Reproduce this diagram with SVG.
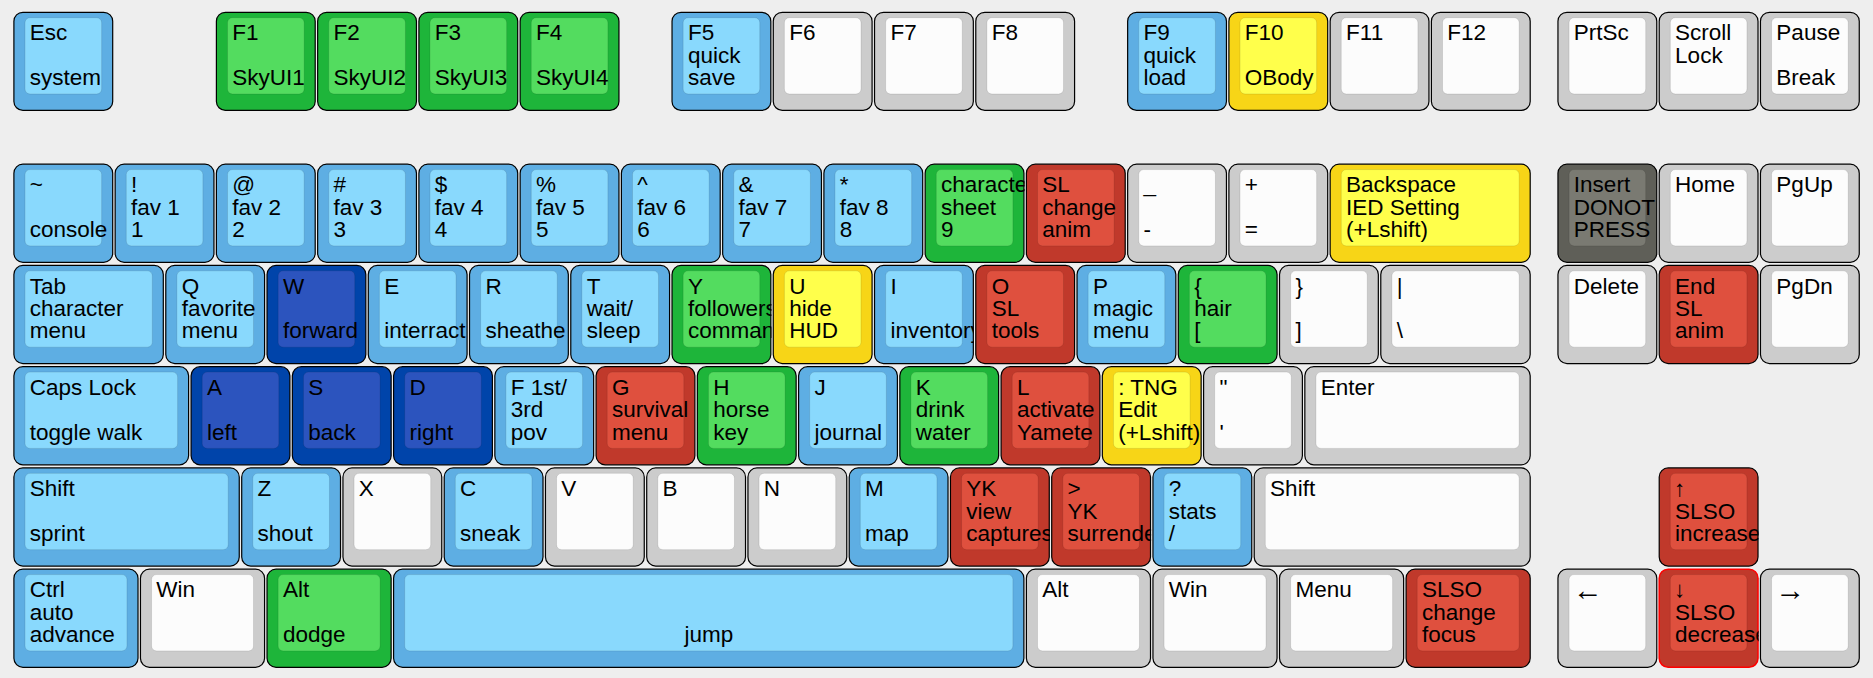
<svg xmlns="http://www.w3.org/2000/svg" width="1873" height="678" viewBox="0 0 1873 678">
<style>
.o{stroke:#000;stroke-width:1.2}
.i{stroke:rgba(0,0,0,0.1);stroke-width:1}
.b .o{fill:#5eaee3}.b .i{fill:#89d9fd}
.g .o{fill:#1eb53a}.g .i{fill:#53dc5f}
.d .o{fill:#0044aa}.d .i{fill:#2c54be}
.r .o{fill:#c0392b}.r .i{fill:#df503e}
.y .o{fill:#f7d517}.y .i{fill:#ffff4b}
.w .o{fill:#cccccc}.w .i{fill:#fcfcfc}
.k .o{fill:#5f5f58}.k .i{fill:#7a7a72}
.sel .o{stroke:#ff0000;stroke-width:1.5}
text{font-family:"Liberation Sans",Arial,sans-serif;font-size:22.5px;fill:#000}
.ah{font-size:30px}
</style>
<defs>
<clipPath id="c1"><rect x="0" y="0" width="100" height="100"/></clipPath>
</defs>
<rect width="1873" height="678" fill="#eeeeee"/>
<g id="keys">
<!-- Row 0 -->
<g id="k-esc" class="b" transform="translate(13.3,11.7)"><rect class="o" x="0.6" y="0.6" width="98.8" height="98.1" rx="9"/><rect class="i" x="11.7" y="6" width="76.65" height="76.3" rx="5"/><text clip-path="url(#c1)"><tspan x="16.5" y="28.8">Esc</tspan><tspan x="16.5" y="73.6">system</tspan></text></g>
<g id="k-f1" class="g" transform="translate(215.8,11.7)"><rect class="o" x="0.6" y="0.6" width="98.8" height="98.1" rx="9"/><rect class="i" x="11.7" y="6" width="76.65" height="76.3" rx="5"/><text clip-path="url(#c1)"><tspan x="16.5" y="28.8">F1</tspan><tspan x="16.5" y="73.6">SkyUI1</tspan></text></g>
<g id="k-f2" class="g" transform="translate(317.05,11.7)"><rect class="o" x="0.6" y="0.6" width="98.8" height="98.1" rx="9"/><rect class="i" x="11.7" y="6" width="76.65" height="76.3" rx="5"/><text clip-path="url(#c1)"><tspan x="16.5" y="28.8">F2</tspan><tspan x="16.5" y="73.6">SkyUI2</tspan></text></g>
<g id="k-f3" class="g" transform="translate(418.3,11.7)"><rect class="o" x="0.6" y="0.6" width="98.8" height="98.1" rx="9"/><rect class="i" x="11.7" y="6" width="76.65" height="76.3" rx="5"/><text clip-path="url(#c1)"><tspan x="16.5" y="28.8">F3</tspan><tspan x="16.5" y="73.6">SkyUI3</tspan></text></g>
<g id="k-f4" class="g" transform="translate(519.55,11.7)"><rect class="o" x="0.6" y="0.6" width="98.8" height="98.1" rx="9"/><rect class="i" x="11.7" y="6" width="76.65" height="76.3" rx="5"/><text clip-path="url(#c1)"><tspan x="16.5" y="28.8">F4</tspan><tspan x="16.5" y="73.6">SkyUI4</tspan></text></g>
<g id="k-f5" class="b" transform="translate(671.43,11.7)"><rect class="o" x="0.6" y="0.6" width="98.8" height="98.1" rx="9"/><rect class="i" x="11.7" y="6" width="76.65" height="76.3" rx="5"/><text clip-path="url(#c1)"><tspan x="16.5" y="28.8">F5</tspan><tspan x="16.5" y="51.3">quick</tspan><tspan x="16.5" y="73.6">save</tspan></text></g>
<g id="k-f6" class="w" transform="translate(772.68,11.7)"><rect class="o" x="0.6" y="0.6" width="98.8" height="98.1" rx="9"/><rect class="i" x="11.7" y="6" width="76.65" height="76.3" rx="5"/><text><tspan x="16.5" y="28.8">F6</tspan></text></g>
<g id="k-f7" class="w" transform="translate(873.93,11.7)"><rect class="o" x="0.6" y="0.6" width="98.8" height="98.1" rx="9"/><rect class="i" x="11.7" y="6" width="76.65" height="76.3" rx="5"/><text><tspan x="16.5" y="28.8">F7</tspan></text></g>
<g id="k-f8" class="w" transform="translate(975.18,11.7)"><rect class="o" x="0.6" y="0.6" width="98.8" height="98.1" rx="9"/><rect class="i" x="11.7" y="6" width="76.65" height="76.3" rx="5"/><text><tspan x="16.5" y="28.8">F8</tspan></text></g>
<g id="k-f9" class="b" transform="translate(1127.05,11.7)"><rect class="o" x="0.6" y="0.6" width="98.8" height="98.1" rx="9"/><rect class="i" x="11.7" y="6" width="76.65" height="76.3" rx="5"/><text clip-path="url(#c1)"><tspan x="16.5" y="28.8">F9</tspan><tspan x="16.5" y="51.3">quick</tspan><tspan x="16.5" y="73.6">load</tspan></text></g>
<g id="k-f10" class="y" transform="translate(1228.3,11.7)"><rect class="o" x="0.6" y="0.6" width="98.8" height="98.1" rx="9"/><rect class="i" x="11.7" y="6" width="76.65" height="76.3" rx="5"/><text clip-path="url(#c1)"><tspan x="16.5" y="28.8">F10</tspan><tspan x="16.5" y="73.6">OBody</tspan></text></g>
<g id="k-f11" class="w" transform="translate(1329.55,11.7)"><rect class="o" x="0.6" y="0.6" width="98.8" height="98.1" rx="9"/><rect class="i" x="11.7" y="6" width="76.65" height="76.3" rx="5"/><text><tspan x="16.5" y="28.8">F11</tspan></text></g>
<g id="k-f12" class="w" transform="translate(1430.8,11.7)"><rect class="o" x="0.6" y="0.6" width="98.8" height="98.1" rx="9"/><rect class="i" x="11.7" y="6" width="76.65" height="76.3" rx="5"/><text><tspan x="16.5" y="28.8">F12</tspan></text></g>
<g id="k-prtsc" class="w" transform="translate(1557.36,11.7)"><rect class="o" x="0.6" y="0.6" width="98.8" height="98.1" rx="9"/><rect class="i" x="11.7" y="6" width="76.65" height="76.3" rx="5"/><text><tspan x="16.5" y="28.8">PrtSc</tspan></text></g>
<g id="k-scroll" class="w" transform="translate(1658.61,11.7)"><rect class="o" x="0.6" y="0.6" width="98.8" height="98.1" rx="9"/><rect class="i" x="11.7" y="6" width="76.65" height="76.3" rx="5"/><text><tspan x="16.5" y="28.8">Scroll</tspan><tspan x="16.5" y="51.3">Lock</tspan></text></g>
<g id="k-pause" class="w" transform="translate(1759.86,11.7)"><rect class="o" x="0.6" y="0.6" width="98.8" height="98.1" rx="9"/><rect class="i" x="11.7" y="6" width="76.65" height="76.3" rx="5"/><text><tspan x="16.5" y="28.8">Pause</tspan><tspan x="16.5" y="73.6">Break</tspan></text></g>
<!-- Row 1 -->
<g id="k-tilde" class="b" transform="translate(13.3,163.58)"><rect class="o" x="0.6" y="0.6" width="98.8" height="98.1" rx="9"/><rect class="i" x="11.7" y="6" width="76.65" height="76.3" rx="5"/><text clip-path="url(#c1)"><tspan x="16.5" y="28.8">~</tspan><tspan x="16.5" y="73.6">console</tspan></text></g>
<g id="k-1" class="b" transform="translate(114.55,163.58)"><rect class="o" x="0.6" y="0.6" width="98.8" height="98.1" rx="9"/><rect class="i" x="11.7" y="6" width="76.65" height="76.3" rx="5"/><text><tspan x="16.5" y="28.8">!</tspan><tspan x="16.5" y="51.3">fav 1</tspan><tspan x="16.5" y="73.6">1</tspan></text></g>
<g id="k-2" class="b" transform="translate(215.8,163.58)"><rect class="o" x="0.6" y="0.6" width="98.8" height="98.1" rx="9"/><rect class="i" x="11.7" y="6" width="76.65" height="76.3" rx="5"/><text><tspan x="16.5" y="28.8">@</tspan><tspan x="16.5" y="51.3">fav 2</tspan><tspan x="16.5" y="73.6">2</tspan></text></g>
<g id="k-3" class="b" transform="translate(317.05,163.58)"><rect class="o" x="0.6" y="0.6" width="98.8" height="98.1" rx="9"/><rect class="i" x="11.7" y="6" width="76.65" height="76.3" rx="5"/><text><tspan x="16.5" y="28.8">#</tspan><tspan x="16.5" y="51.3">fav 3</tspan><tspan x="16.5" y="73.6">3</tspan></text></g>
<g id="k-4" class="b" transform="translate(418.3,163.58)"><rect class="o" x="0.6" y="0.6" width="98.8" height="98.1" rx="9"/><rect class="i" x="11.7" y="6" width="76.65" height="76.3" rx="5"/><text><tspan x="16.5" y="28.8">$</tspan><tspan x="16.5" y="51.3">fav 4</tspan><tspan x="16.5" y="73.6">4</tspan></text></g>
<g id="k-5" class="b" transform="translate(519.55,163.58)"><rect class="o" x="0.6" y="0.6" width="98.8" height="98.1" rx="9"/><rect class="i" x="11.7" y="6" width="76.65" height="76.3" rx="5"/><text><tspan x="16.5" y="28.8">%</tspan><tspan x="16.5" y="51.3">fav 5</tspan><tspan x="16.5" y="73.6">5</tspan></text></g>
<g id="k-6" class="b" transform="translate(620.8,163.58)"><rect class="o" x="0.6" y="0.6" width="98.8" height="98.1" rx="9"/><rect class="i" x="11.7" y="6" width="76.65" height="76.3" rx="5"/><text><tspan x="16.5" y="28.8">^</tspan><tspan x="16.5" y="51.3">fav 6</tspan><tspan x="16.5" y="73.6">6</tspan></text></g>
<g id="k-7" class="b" transform="translate(722.05,163.58)"><rect class="o" x="0.6" y="0.6" width="98.8" height="98.1" rx="9"/><rect class="i" x="11.7" y="6" width="76.65" height="76.3" rx="5"/><text><tspan x="16.5" y="28.8">&amp;</tspan><tspan x="16.5" y="51.3">fav 7</tspan><tspan x="16.5" y="73.6">7</tspan></text></g>
<g id="k-8" class="b" transform="translate(823.3,163.58)"><rect class="o" x="0.6" y="0.6" width="98.8" height="98.1" rx="9"/><rect class="i" x="11.7" y="6" width="76.65" height="76.3" rx="5"/><text><tspan x="16.5" y="28.8">*</tspan><tspan x="16.5" y="51.3">fav 8</tspan><tspan x="16.5" y="73.6">8</tspan></text></g>
<g id="k-9" class="g" transform="translate(924.55,163.58)"><rect class="o" x="0.6" y="0.6" width="98.8" height="98.1" rx="9"/><rect class="i" x="11.7" y="6" width="76.65" height="76.3" rx="5"/><text clip-path="url(#c1)"><tspan x="16.5" y="28.8">character</tspan><tspan x="16.5" y="51.3">sheet</tspan><tspan x="16.5" y="73.6">9</tspan></text></g>
<g id="k-0" class="r" transform="translate(1025.8,163.58)"><rect class="o" x="0.6" y="0.6" width="98.8" height="98.1" rx="9"/><rect class="i" x="11.7" y="6" width="76.65" height="76.3" rx="5"/><text clip-path="url(#c1)"><tspan x="16.5" y="28.8">SL</tspan><tspan x="16.5" y="51.3">change</tspan><tspan x="16.5" y="73.6">anim</tspan></text></g>
<g id="k-minus" class="w" transform="translate(1127.05,163.58)"><rect class="o" x="0.6" y="0.6" width="98.8" height="98.1" rx="9"/><rect class="i" x="11.7" y="6" width="76.65" height="76.3" rx="5"/><text><tspan x="16.5" y="28.8">_</tspan><tspan x="16.5" y="73.6">-</tspan></text></g>
<g id="k-equal" class="w" transform="translate(1228.3,163.58)"><rect class="o" x="0.6" y="0.6" width="98.8" height="98.1" rx="9"/><rect class="i" x="11.7" y="6" width="76.65" height="76.3" rx="5"/><text><tspan x="16.5" y="28.8">+</tspan><tspan x="16.5" y="73.6">=</tspan></text></g>
<g id="k-backspace" class="y" transform="translate(1329.55,163.58)"><rect class="o" x="0.6" y="0.6" width="200.05" height="98.1" rx="9"/><rect class="i" x="11.7" y="6" width="177.9" height="76.3" rx="5"/><text><tspan x="16.5" y="28.8">Backspace</tspan><tspan x="16.5" y="51.3">IED Setting</tspan><tspan x="16.5" y="73.6">(+Lshift)</tspan></text></g>
<g id="k-insert" class="k" transform="translate(1557.36,163.58)"><rect class="o" x="0.6" y="0.6" width="98.8" height="98.1" rx="9"/><rect class="i" x="11.7" y="6" width="76.65" height="76.3" rx="5"/><text clip-path="url(#c1)"><tspan x="16.5" y="28.8">Insert</tspan><tspan x="16.5" y="51.3">DONOT</tspan><tspan x="16.5" y="73.6">PRESS</tspan></text></g>
<g id="k-home" class="w" transform="translate(1658.61,163.58)"><rect class="o" x="0.6" y="0.6" width="98.8" height="98.1" rx="9"/><rect class="i" x="11.7" y="6" width="76.65" height="76.3" rx="5"/><text><tspan x="16.5" y="28.8">Home</tspan></text></g>
<g id="k-pgup" class="w" transform="translate(1759.86,163.58)"><rect class="o" x="0.6" y="0.6" width="98.8" height="98.1" rx="9"/><rect class="i" x="11.7" y="6" width="76.65" height="76.3" rx="5"/><text><tspan x="16.5" y="28.8">PgUp</tspan></text></g>
<!-- Row 2 -->
<g id="k-tab" class="b" transform="translate(13.3,264.83)"><rect class="o" x="0.6" y="0.6" width="149.4" height="98.1" rx="9"/><rect class="i" x="11.7" y="6" width="127.3" height="76.3" rx="5"/><text><tspan x="16.5" y="28.8">Tab</tspan><tspan x="16.5" y="51.3">character</tspan><tspan x="16.5" y="73.6">menu</tspan></text></g>
<g id="k-q" class="b" transform="translate(165.18,264.83)"><rect class="o" x="0.6" y="0.6" width="98.8" height="98.1" rx="9"/><rect class="i" x="11.7" y="6" width="76.65" height="76.3" rx="5"/><text clip-path="url(#c1)"><tspan x="16.5" y="28.8">Q</tspan><tspan x="16.5" y="51.3">favorite</tspan><tspan x="16.5" y="73.6">menu</tspan></text></g>
<g id="k-w" class="d" transform="translate(266.43,264.83)"><rect class="o" x="0.6" y="0.6" width="98.8" height="98.1" rx="9"/><rect class="i" x="11.7" y="6" width="76.65" height="76.3" rx="5"/><text clip-path="url(#c1)"><tspan x="16.5" y="28.8">W</tspan><tspan x="16.5" y="73.6">forward</tspan></text></g>
<g id="k-e" class="b" transform="translate(367.68,264.83)"><rect class="o" x="0.6" y="0.6" width="98.8" height="98.1" rx="9"/><rect class="i" x="11.7" y="6" width="76.65" height="76.3" rx="5"/><text clip-path="url(#c1)"><tspan x="16.5" y="28.8">E</tspan><tspan x="16.5" y="73.6">interract</tspan></text></g>
<g id="k-r" class="b" transform="translate(468.93,264.83)"><rect class="o" x="0.6" y="0.6" width="98.8" height="98.1" rx="9"/><rect class="i" x="11.7" y="6" width="76.65" height="76.3" rx="5"/><text clip-path="url(#c1)"><tspan x="16.5" y="28.8">R</tspan><tspan x="16.5" y="73.6">sheathe</tspan></text></g>
<g id="k-t" class="b" transform="translate(570.18,264.83)"><rect class="o" x="0.6" y="0.6" width="98.8" height="98.1" rx="9"/><rect class="i" x="11.7" y="6" width="76.65" height="76.3" rx="5"/><text clip-path="url(#c1)"><tspan x="16.5" y="28.8">T</tspan><tspan x="16.5" y="51.3">wait/</tspan><tspan x="16.5" y="73.6">sleep</tspan></text></g>
<g id="k-y" class="g" transform="translate(671.43,264.83)"><rect class="o" x="0.6" y="0.6" width="98.8" height="98.1" rx="9"/><rect class="i" x="11.7" y="6" width="76.65" height="76.3" rx="5"/><text clip-path="url(#c1)"><tspan x="16.5" y="28.8">Y</tspan><tspan x="16.5" y="51.3">followers</tspan><tspan x="16.5" y="73.6">command</tspan></text></g>
<g id="k-u" class="y" transform="translate(772.68,264.83)"><rect class="o" x="0.6" y="0.6" width="98.8" height="98.1" rx="9"/><rect class="i" x="11.7" y="6" width="76.65" height="76.3" rx="5"/><text clip-path="url(#c1)"><tspan x="16.5" y="28.8">U</tspan><tspan x="16.5" y="51.3">hide</tspan><tspan x="16.5" y="73.6">HUD</tspan></text></g>
<g id="k-i" class="b" transform="translate(873.93,264.83)"><rect class="o" x="0.6" y="0.6" width="98.8" height="98.1" rx="9"/><rect class="i" x="11.7" y="6" width="76.65" height="76.3" rx="5"/><text clip-path="url(#c1)"><tspan x="16.5" y="28.8">I</tspan><tspan x="16.5" y="73.6">inventory</tspan></text></g>
<g id="k-o" class="r" transform="translate(975.18,264.83)"><rect class="o" x="0.6" y="0.6" width="98.8" height="98.1" rx="9"/><rect class="i" x="11.7" y="6" width="76.65" height="76.3" rx="5"/><text clip-path="url(#c1)"><tspan x="16.5" y="28.8">O</tspan><tspan x="16.5" y="51.3">SL</tspan><tspan x="16.5" y="73.6">tools</tspan></text></g>
<g id="k-p" class="b" transform="translate(1076.43,264.83)"><rect class="o" x="0.6" y="0.6" width="98.8" height="98.1" rx="9"/><rect class="i" x="11.7" y="6" width="76.65" height="76.3" rx="5"/><text clip-path="url(#c1)"><tspan x="16.5" y="28.8">P</tspan><tspan x="16.5" y="51.3">magic</tspan><tspan x="16.5" y="73.6">menu</tspan></text></g>
<g id="k-lbrace" class="g" transform="translate(1177.68,264.83)"><rect class="o" x="0.6" y="0.6" width="98.8" height="98.1" rx="9"/><rect class="i" x="11.7" y="6" width="76.65" height="76.3" rx="5"/><text clip-path="url(#c1)"><tspan x="16.5" y="28.8">{</tspan><tspan x="16.5" y="51.3">hair</tspan><tspan x="16.5" y="73.6">[</tspan></text></g>
<g id="k-rbrace" class="w" transform="translate(1278.93,264.83)"><rect class="o" x="0.6" y="0.6" width="98.8" height="98.1" rx="9"/><rect class="i" x="11.7" y="6" width="76.65" height="76.3" rx="5"/><text><tspan x="16.5" y="28.8">}</tspan><tspan x="16.5" y="73.6">]</tspan></text></g>
<g id="k-pipe" class="w" transform="translate(1380.18,264.83)"><rect class="o" x="0.6" y="0.6" width="149.4" height="98.1" rx="9"/><rect class="i" x="11.7" y="6" width="127.3" height="76.3" rx="5"/><text><tspan x="16.5" y="28.8">|</tspan><tspan x="16.5" y="73.6">\</tspan></text></g>
<g id="k-delete" class="w" transform="translate(1557.36,264.83)"><rect class="o" x="0.6" y="0.6" width="98.8" height="98.1" rx="9"/><rect class="i" x="11.7" y="6" width="76.65" height="76.3" rx="5"/><text><tspan x="16.5" y="28.8">Delete</tspan></text></g>
<g id="k-end" class="r" transform="translate(1658.61,264.83)"><rect class="o" x="0.6" y="0.6" width="98.8" height="98.1" rx="9"/><rect class="i" x="11.7" y="6" width="76.65" height="76.3" rx="5"/><text><tspan x="16.5" y="28.8">End</tspan><tspan x="16.5" y="51.3">SL</tspan><tspan x="16.5" y="73.6">anim</tspan></text></g>
<g id="k-pgdn" class="w" transform="translate(1759.86,264.83)"><rect class="o" x="0.6" y="0.6" width="98.8" height="98.1" rx="9"/><rect class="i" x="11.7" y="6" width="76.65" height="76.3" rx="5"/><text><tspan x="16.5" y="28.8">PgDn</tspan></text></g>
<!-- Row 3 -->
<g id="k-caps" class="b" transform="translate(13.3,366.08)"><rect class="o" x="0.6" y="0.6" width="174.7" height="98.1" rx="9"/><rect class="i" x="11.7" y="6" width="152.6" height="76.3" rx="5"/><text><tspan x="16.5" y="28.8">Caps Lock</tspan><tspan x="16.5" y="73.6">toggle walk</tspan></text></g>
<g id="k-a" class="d" transform="translate(190.49,366.08)"><rect class="o" x="0.6" y="0.6" width="98.8" height="98.1" rx="9"/><rect class="i" x="11.7" y="6" width="76.65" height="76.3" rx="5"/><text><tspan x="16.5" y="28.8">A</tspan><tspan x="16.5" y="73.6">left</tspan></text></g>
<g id="k-s" class="d" transform="translate(291.74,366.08)"><rect class="o" x="0.6" y="0.6" width="98.8" height="98.1" rx="9"/><rect class="i" x="11.7" y="6" width="76.65" height="76.3" rx="5"/><text><tspan x="16.5" y="28.8">S</tspan><tspan x="16.5" y="73.6">back</tspan></text></g>
<g id="k-d" class="d" transform="translate(392.99,366.08)"><rect class="o" x="0.6" y="0.6" width="98.8" height="98.1" rx="9"/><rect class="i" x="11.7" y="6" width="76.65" height="76.3" rx="5"/><text><tspan x="16.5" y="28.8">D</tspan><tspan x="16.5" y="73.6">right</tspan></text></g>
<g id="k-f" class="b" transform="translate(494.24,366.08)"><rect class="o" x="0.6" y="0.6" width="98.8" height="98.1" rx="9"/><rect class="i" x="11.7" y="6" width="76.65" height="76.3" rx="5"/><text clip-path="url(#c1)"><tspan x="16.5" y="28.8">F 1st/</tspan><tspan x="16.5" y="51.3">3rd</tspan><tspan x="16.5" y="73.6">pov</tspan></text></g>
<g id="k-g" class="r" transform="translate(595.49,366.08)"><rect class="o" x="0.6" y="0.6" width="98.8" height="98.1" rx="9"/><rect class="i" x="11.7" y="6" width="76.65" height="76.3" rx="5"/><text clip-path="url(#c1)"><tspan x="16.5" y="28.8">G</tspan><tspan x="16.5" y="51.3">survival</tspan><tspan x="16.5" y="73.6">menu</tspan></text></g>
<g id="k-h" class="g" transform="translate(696.74,366.08)"><rect class="o" x="0.6" y="0.6" width="98.8" height="98.1" rx="9"/><rect class="i" x="11.7" y="6" width="76.65" height="76.3" rx="5"/><text clip-path="url(#c1)"><tspan x="16.5" y="28.8">H</tspan><tspan x="16.5" y="51.3">horse</tspan><tspan x="16.5" y="73.6">key</tspan></text></g>
<g id="k-j" class="b" transform="translate(797.99,366.08)"><rect class="o" x="0.6" y="0.6" width="98.8" height="98.1" rx="9"/><rect class="i" x="11.7" y="6" width="76.65" height="76.3" rx="5"/><text clip-path="url(#c1)"><tspan x="16.5" y="28.8">J</tspan><tspan x="16.5" y="73.6">journal</tspan></text></g>
<g id="k-k" class="g" transform="translate(899.24,366.08)"><rect class="o" x="0.6" y="0.6" width="98.8" height="98.1" rx="9"/><rect class="i" x="11.7" y="6" width="76.65" height="76.3" rx="5"/><text clip-path="url(#c1)"><tspan x="16.5" y="28.8">K</tspan><tspan x="16.5" y="51.3">drink</tspan><tspan x="16.5" y="73.6">water</tspan></text></g>
<g id="k-l" class="r" transform="translate(1000.49,366.08)"><rect class="o" x="0.6" y="0.6" width="98.8" height="98.1" rx="9"/><rect class="i" x="11.7" y="6" width="76.65" height="76.3" rx="5"/><text clip-path="url(#c1)"><tspan x="16.5" y="28.8">L</tspan><tspan x="16.5" y="51.3">activate</tspan><tspan x="16.5" y="73.6">Yamete</tspan></text></g>
<g id="k-semicolon" class="y" transform="translate(1101.74,366.08)"><rect class="o" x="0.6" y="0.6" width="98.8" height="98.1" rx="9"/><rect class="i" x="11.7" y="6" width="76.65" height="76.3" rx="5"/><text clip-path="url(#c1)"><tspan x="16.5" y="28.8">: TNG</tspan><tspan x="16.5" y="51.3">Edit</tspan><tspan x="16.5" y="73.6">(+Lshift)</tspan></text></g>
<g id="k-quote" class="w" transform="translate(1202.99,366.08)"><rect class="o" x="0.6" y="0.6" width="98.8" height="98.1" rx="9"/><rect class="i" x="11.7" y="6" width="76.65" height="76.3" rx="5"/><text><tspan x="16.5" y="28.8">"</tspan><tspan x="16.5" y="73.6">'</tspan></text></g>
<g id="k-enter" class="w" transform="translate(1304.24,366.08)"><rect class="o" x="0.6" y="0.6" width="225.35" height="98.1" rx="9"/><rect class="i" x="11.7" y="6" width="203.2" height="76.3" rx="5"/><text><tspan x="16.5" y="28.8">Enter</tspan></text></g>
<!-- Row 4 -->
<g id="k-lshift" class="b" transform="translate(13.3,467.33)"><rect class="o" x="0.6" y="0.6" width="225.35" height="98.1" rx="9"/><rect class="i" x="11.7" y="6" width="203.2" height="76.3" rx="5"/><text><tspan x="16.5" y="28.8">Shift</tspan><tspan x="16.5" y="73.6">sprint</tspan></text></g>
<g id="k-z" class="b" transform="translate(241.11,467.33)"><rect class="o" x="0.6" y="0.6" width="98.8" height="98.1" rx="9"/><rect class="i" x="11.7" y="6" width="76.65" height="76.3" rx="5"/><text><tspan x="16.5" y="28.8">Z</tspan><tspan x="16.5" y="73.6">shout</tspan></text></g>
<g id="k-x" class="w" transform="translate(342.36,467.33)"><rect class="o" x="0.6" y="0.6" width="98.8" height="98.1" rx="9"/><rect class="i" x="11.7" y="6" width="76.65" height="76.3" rx="5"/><text><tspan x="16.5" y="28.8">X</tspan></text></g>
<g id="k-c" class="b" transform="translate(443.61,467.33)"><rect class="o" x="0.6" y="0.6" width="98.8" height="98.1" rx="9"/><rect class="i" x="11.7" y="6" width="76.65" height="76.3" rx="5"/><text><tspan x="16.5" y="28.8">C</tspan><tspan x="16.5" y="73.6">sneak</tspan></text></g>
<g id="k-v" class="w" transform="translate(544.86,467.33)"><rect class="o" x="0.6" y="0.6" width="98.8" height="98.1" rx="9"/><rect class="i" x="11.7" y="6" width="76.65" height="76.3" rx="5"/><text><tspan x="16.5" y="28.8">V</tspan></text></g>
<g id="k-b" class="w" transform="translate(646.11,467.33)"><rect class="o" x="0.6" y="0.6" width="98.8" height="98.1" rx="9"/><rect class="i" x="11.7" y="6" width="76.65" height="76.3" rx="5"/><text><tspan x="16.5" y="28.8">B</tspan></text></g>
<g id="k-n" class="w" transform="translate(747.36,467.33)"><rect class="o" x="0.6" y="0.6" width="98.8" height="98.1" rx="9"/><rect class="i" x="11.7" y="6" width="76.65" height="76.3" rx="5"/><text><tspan x="16.5" y="28.8">N</tspan></text></g>
<g id="k-m" class="b" transform="translate(848.61,467.33)"><rect class="o" x="0.6" y="0.6" width="98.8" height="98.1" rx="9"/><rect class="i" x="11.7" y="6" width="76.65" height="76.3" rx="5"/><text><tspan x="16.5" y="28.8">M</tspan><tspan x="16.5" y="73.6">map</tspan></text></g>
<g id="k-comma" class="r" transform="translate(949.86,467.33)"><rect class="o" x="0.6" y="0.6" width="98.8" height="98.1" rx="9"/><rect class="i" x="11.7" y="6" width="76.65" height="76.3" rx="5"/><text clip-path="url(#c1)"><tspan x="16.5" y="28.8">YK</tspan><tspan x="16.5" y="51.3">view</tspan><tspan x="16.5" y="73.6">captures</tspan></text></g>
<g id="k-period" class="r" transform="translate(1051.11,467.33)"><rect class="o" x="0.6" y="0.6" width="98.8" height="98.1" rx="9"/><rect class="i" x="11.7" y="6" width="76.65" height="76.3" rx="5"/><text clip-path="url(#c1)"><tspan x="16.5" y="28.8">&gt;</tspan><tspan x="16.5" y="51.3">YK</tspan><tspan x="16.5" y="73.6">surrender</tspan></text></g>
<g id="k-slash" class="b" transform="translate(1152.36,467.33)"><rect class="o" x="0.6" y="0.6" width="98.8" height="98.1" rx="9"/><rect class="i" x="11.7" y="6" width="76.65" height="76.3" rx="5"/><text clip-path="url(#c1)"><tspan x="16.5" y="28.8">?</tspan><tspan x="16.5" y="51.3">stats</tspan><tspan x="16.5" y="73.6">/</tspan></text></g>
<g id="k-rshift" class="w" transform="translate(1253.61,467.33)"><rect class="o" x="0.6" y="0.6" width="275.98" height="98.1" rx="9"/><rect class="i" x="11.7" y="6" width="253.8" height="76.3" rx="5"/><text><tspan x="16.5" y="28.8">Shift</tspan></text></g>
<g id="k-up" class="r" transform="translate(1658.61,467.33)"><rect class="o" x="0.6" y="0.6" width="98.8" height="98.1" rx="9"/><rect class="i" x="11.7" y="6" width="76.65" height="76.3" rx="5"/><text clip-path="url(#c1)"><tspan x="15.5" y="28.8">↑</tspan><tspan x="16.5" y="51.3">SLSO</tspan><tspan x="16.5" y="73.6">increase</tspan></text></g>
<!-- Row 5 -->
<g id="k-lctrl" class="b" transform="translate(13.3,568.58)"><rect class="o" x="0.6" y="0.6" width="124.1" height="98.1" rx="9"/><rect class="i" x="11.7" y="6" width="101.96" height="76.3" rx="5"/><text><tspan x="16.5" y="28.8">Ctrl</tspan><tspan x="16.5" y="51.3">auto</tspan><tspan x="16.5" y="73.6">advance</tspan></text></g>
<g id="k-lwin" class="w" transform="translate(139.86,568.58)"><rect class="o" x="0.6" y="0.6" width="124.1" height="98.1" rx="9"/><rect class="i" x="11.7" y="6" width="101.96" height="76.3" rx="5"/><text><tspan x="16.5" y="28.8">Win</tspan></text></g>
<g id="k-lalt" class="g" transform="translate(266.43,568.58)"><rect class="o" x="0.6" y="0.6" width="124.1" height="98.1" rx="9"/><rect class="i" x="11.7" y="6" width="101.96" height="76.3" rx="5"/><text><tspan x="16.5" y="28.8">Alt</tspan><tspan x="16.5" y="73.6">dodge</tspan></text></g>
<g id="k-space" class="b" transform="translate(392.99,568.58)"><rect class="o" x="0.6" y="0.6" width="630.3" height="98.1" rx="9"/><rect class="i" x="11.7" y="6" width="608.2" height="76.3" rx="5"/><text><tspan x="315.8" y="73.6" text-anchor="middle">jump</tspan></text></g>
<g id="k-ralt" class="w" transform="translate(1025.8,568.58)"><rect class="o" x="0.6" y="0.6" width="124.1" height="98.1" rx="9"/><rect class="i" x="11.7" y="6" width="101.96" height="76.3" rx="5"/><text><tspan x="16.5" y="28.8">Alt</tspan></text></g>
<g id="k-rwin" class="w" transform="translate(1152.36,568.58)"><rect class="o" x="0.6" y="0.6" width="124.1" height="98.1" rx="9"/><rect class="i" x="11.7" y="6" width="101.96" height="76.3" rx="5"/><text><tspan x="16.5" y="28.8">Win</tspan></text></g>
<g id="k-menu" class="w" transform="translate(1278.93,568.58)"><rect class="o" x="0.6" y="0.6" width="124.1" height="98.1" rx="9"/><rect class="i" x="11.7" y="6" width="101.96" height="76.3" rx="5"/><text><tspan x="16.5" y="28.8">Menu</tspan></text></g>
<g id="k-rctrl" class="r" transform="translate(1405.49,568.58)"><rect class="o" x="0.6" y="0.6" width="124.1" height="98.1" rx="9"/><rect class="i" x="11.7" y="6" width="101.96" height="76.3" rx="5"/><text><tspan x="16.5" y="28.8">SLSO</tspan><tspan x="16.5" y="51.3">change</tspan><tspan x="16.5" y="73.6">focus</tspan></text></g>
<g id="k-left" class="w" transform="translate(1557.36,568.58)"><rect class="o" x="0.6" y="0.6" width="98.8" height="98.1" rx="9"/><rect class="i" x="11.7" y="6" width="76.65" height="76.3" rx="5"/><text><tspan class="ah" x="15.5" y="31">←</tspan></text></g>
<g id="k-down" class="r sel" transform="translate(1658.61,568.58)"><rect class="o" x="0.6" y="0.6" width="98.8" height="98.1" rx="9"/><rect class="i" x="11.7" y="6" width="76.65" height="76.3" rx="5"/><text clip-path="url(#c1)"><tspan x="15.5" y="28.8">↓</tspan><tspan x="16.5" y="51.3">SLSO</tspan><tspan x="16.5" y="73.6">decrease</tspan></text></g>
<g id="k-right" class="w" transform="translate(1759.86,568.58)"><rect class="o" x="0.6" y="0.6" width="98.8" height="98.1" rx="9"/><rect class="i" x="11.7" y="6" width="76.65" height="76.3" rx="5"/><text><tspan class="ah" x="15.5" y="31">→</tspan></text></g>
</g>
<g id="connectors"/>
</svg>
